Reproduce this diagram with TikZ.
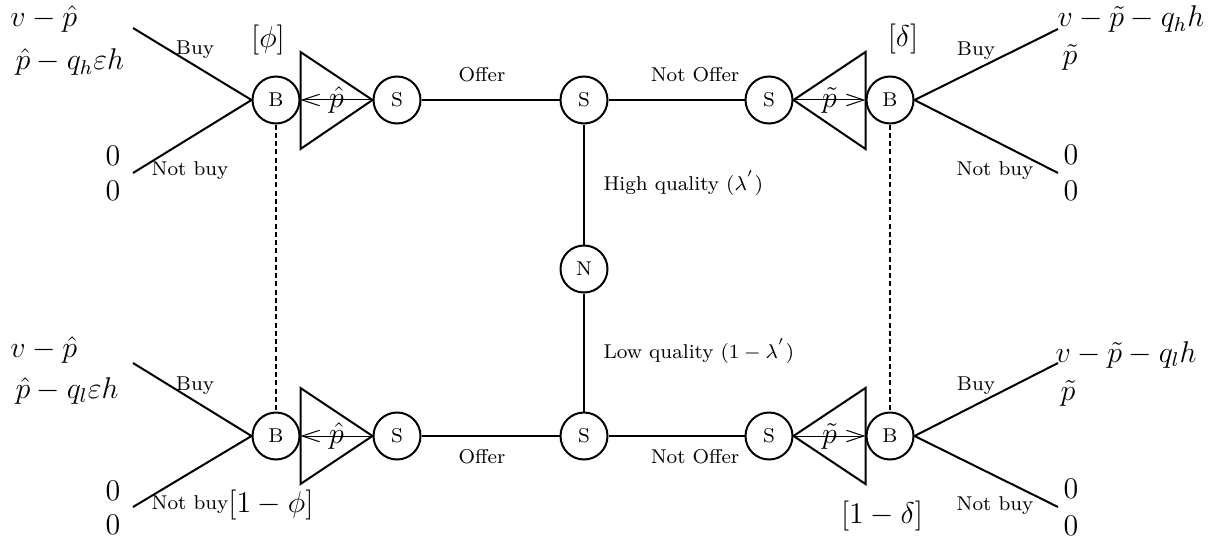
\documentclass[tikz,border=0pt]{standalone}
\usetikzlibrary{arrows.meta}
\begin{document}
\begin{tikzpicture}[x=0.4pt,y=-0.4pt,
  player/.style={circle,draw,thick,minimum size=18.8pt,inner sep=0pt,font=\footnotesize},
  branch/.style={thick},
  info/.style={thick,dash pattern=on 2pt off 1.3pt},
  tri/.style={thick,line join=miter},
  offerarrow/.style={thin,-{Straight Barb[length=7pt,width=4.6pt]}},
  small/.style={font=\footnotesize,inner sep=0pt},
  pay/.style={font=\large,inner sep=0pt,anchor=base west},
  belief/.style={font=\large,inner sep=0pt}]
\useasboundingbox (0,0) rectangle (1223,546);
% players
\node[player] (B1) at (276,100) {B};
\node[player] (S1) at (397,100) {S};
\node[player] (Sc) at (584,100) {S};
\node[player] (S2) at (769,100) {S};
\node[player] (B2) at (890,100) {B};
\node[player] (N)  at (584,269) {N};
\node[player] (B3) at (276,436) {B};
\node[player] (S3) at (397,436) {S};
\node[player] (Sd) at (584,436) {S};
\node[player] (S4) at (769,436) {S};
\node[player] (B4) at (890,436) {B};
% main edges
\draw[branch] (N) -- (Sc);
\draw[branch] (N) -- (Sd);
\draw[branch] (Sc) -- (S1);
\draw[branch] (Sc) -- (S2);
\draw[branch] (Sd) -- (S3);
\draw[branch] (Sd) -- (S4);
\node[small] (o1) at (482,75) {Offer};
\node[small] (n1) at (695,75) {Not Offer};
\node[small] (o2) at (482,457) {Offer};
\node[small] (n2) at (695,457) {Not Offer};
\node[small,anchor=west] (hq) at (603,183) {High quality $(\lambda^{'})$};
\node[small,anchor=west] (lq) at (603,351) {Low quality $(1-\lambda^{'})$};
% triangles
\draw[tri] (S1.west) -- (B1.east |- 0,52) -- (B1.east |- 0,149) -- cycle;
\draw[tri] (S3.west) -- (B3.east |- 0,388) -- (B3.east |- 0,484) -- cycle;
\draw[tri] (S2.east) -- (B2.west |- 0,52) -- (B2.west |- 0,149) -- cycle;
\draw[tri] (S4.east) -- (B4.west |- 0,388) -- (B4.west |- 0,484) -- cycle;
\draw[offerarrow] (S1.west) -- node[font=\large,inner sep=0pt] {$\hat{p}$} (B1.east);
\draw[offerarrow] (S3.west) -- node[font=\large,inner sep=0pt] {$\hat{p}$} (B3.east);
\draw[offerarrow] (S2.east) -- node[font=\large,inner sep=0pt] {$\tilde{p}$} (B2.west);
\draw[offerarrow] (S4.east) -- node[font=\large,inner sep=0pt] {$\tilde{p}$} (B4.west);
% information sets
\draw[info] (B1) -- (B3);
\draw[info] (B2) -- (B4);
\node[belief] (phi) at (268,40) {$[\phi]$};
\node[belief] (phi2) at (271,505) {$[1-\phi]$};
\node[belief] (del) at (903,39) {$[\delta]$};
\node[belief] (del2) at (882,516) {$[1-\delta]$};
% buyer branches
\coordinate (e1) at (133,28);  \coordinate (e2) at (133,173);
\coordinate (e3) at (133,363); \coordinate (e4) at (133,507);
\coordinate (e5) at (1058,29); \coordinate (e6) at (1058,173);
\coordinate (e7) at (1058,363); \coordinate (e8) at (1058,507);
\draw[branch] (B1.west) -- (e1);
\draw[branch] (B1.west) -- (e2);
\draw[branch] (B3.west) -- (e3);
\draw[branch] (B3.west) -- (e4);
\draw[branch] (B2.east) -- (e5);
\draw[branch] (B2.east) -- (e6);
\draw[branch] (B4.east) -- (e7);
\draw[branch] (B4.east) -- (e8);
\node[small] (bu1) at (195,50) {Buy};
\node[small] (nb1) at (190,171) {Not buy};
\node[small] (bu3) at (195,386) {Buy};
\node[small] (nb3) at (190,505) {Not buy};
\node[small] (bu2) at (976,51) {Buy};
\node[small] (nb2) at (995,171) {Not buy};
\node[small] (bu4) at (976,386) {Buy};
\node[small] (nb4) at (995,506) {Not buy};
% payoffs
\node[pay] (p1a) at (10,27) {$v-\hat{p}$};
\node[pay] (p1b) at (15,70) {$\hat{p}-q_h\varepsilon h$};
\node[pay] (p2a) at (105,165) {$0$};
\node[pay] (p2b) at (105,200) {$0$};
\node[pay] (p3a) at (10,357) {$v-\hat{p}$};
\node[pay] (p3b) at (15,398) {$\hat{p}-q_l\varepsilon h$};
\node[pay] (p4a) at (105,500) {$0$};
\node[pay] (p4b) at (105,534) {$0$};
\node[pay] (p5a) at (1057,27) {$v-\tilde{p}-q_h h$};
\node[pay] (p5b) at (1062,65) {$\tilde{p}$};
\node[pay] (p6a) at (1063,164) {$0$};
\node[pay] (p6b) at (1063,200) {$0$};
\node[pay] (p7a) at (1055,362) {$v-\tilde{p}-q_l h$};
\node[pay] (p7b) at (1060,400) {$\tilde{p}$};
\node[pay] (p8a) at (1063,498) {$0$};
\node[pay] (p8b) at (1063,535) {$0$};
\end{tikzpicture}
\end{document}
